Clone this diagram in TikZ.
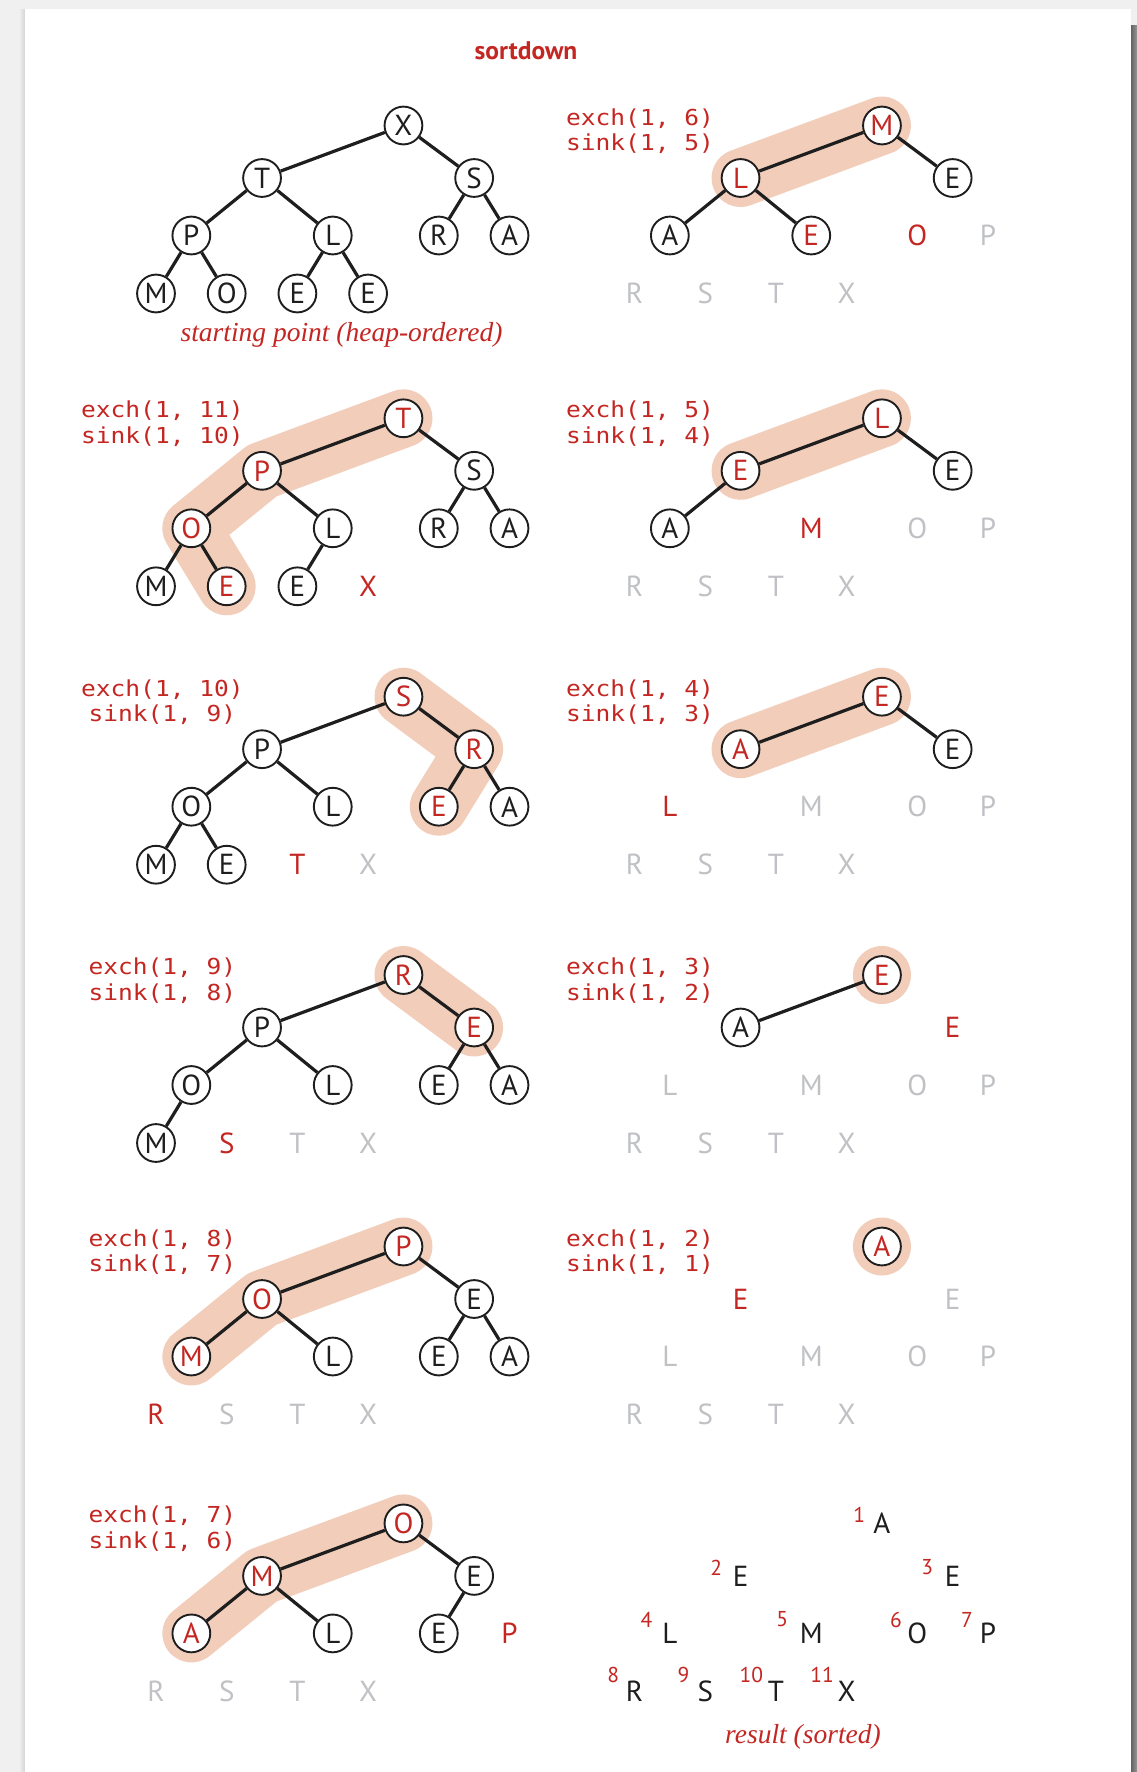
\documentclass[tikz,border=0pt]{standalone}
\usepackage{fontspec}
\newfontfamily\letterfont{PT Sans}
\newfontfamily\codefont[FakeStretch=1.115]{DejaVu Sans Mono}
\newfontfamily\capfont{Liberation Serif}
\definecolor{hred}{RGB}{196,38,34}
\definecolor{hgrey}{RGB}{192,193,197}
\definecolor{hink}{RGB}{30,30,30}
\definecolor{hpeach}{RGB}{242,205,186}
\definecolor{hbg}{RGB}{240,240,240}
\pgfdeclarelayer{back}\pgfdeclarelayer{hl}\pgfsetlayers{back,hl,main}
% in-order slot and level offset of heap position k
\expandafter\def\csname hslot1\endcsname{7}
\expandafter\def\csname hslot2\endcsname{3}
\expandafter\def\csname hslot3\endcsname{9}
\expandafter\def\csname hslot4\endcsname{1}
\expandafter\def\csname hslot5\endcsname{5}
\expandafter\def\csname hslot6\endcsname{8}
\expandafter\def\csname hslot7\endcsname{10}
\expandafter\def\csname hslot8\endcsname{0}
\expandafter\def\csname hslot9\endcsname{2}
\expandafter\def\csname hslot10\endcsname{4}
\expandafter\def\csname hslot11\endcsname{6}
\expandafter\def\csname hlev1\endcsname{0}
\expandafter\def\csname hlev2\endcsname{52.5}
\expandafter\def\csname hlev3\endcsname{52.5}
\expandafter\def\csname hlev4\endcsname{110}
\expandafter\def\csname hlev5\endcsname{110}
\expandafter\def\csname hlev6\endcsname{110}
\expandafter\def\csname hlev7\endcsname{110}
\expandafter\def\csname hlev8\endcsname{168}
\expandafter\def\csname hlev9\endcsname{168}
\expandafter\def\csname hlev10\endcsname{168}
\expandafter\def\csname hlev11\endcsname{168}
\newcommand\hpanel[3]{% #1 name, #2 x0, #3 root y, list in \hplist
  \foreach \st/\lt [count=\k] in \hplist {%
    \edef\hsl{\csname hslot\k\endcsname}%
    \edef\hlv{\csname hlev\k\endcsname}%
    \pgfmathsetmacro\hx{#2+35.35*\hsl}%
    \pgfmathsetmacro\hy{#3+\hlv}%
    \node[\st] (#1n\k) at (\hx,\hy) {\lt};
  }}
\newcommand\hedges[2]{%
  \foreach \k in {2,...,#2} {%
    \pgfmathtruncatemacro\pp{\k/2}%
    \draw[edge] (#1n\pp) -- (#1n\k);
  }}
\begin{document}
\begin{tikzpicture}[x=1pt,y=-1pt,
  hc/.style={circle,draw=hink,fill=white,line width=1.9pt,minimum size=37.8pt,inner sep=0pt,
    font=\letterfont\fontsize{29}{32}\selectfont,text=hink},
  hcr/.style={hc,text=hred},
  tlk/.style={inner sep=0pt,font=\letterfont\fontsize{29}{32}\selectfont,text=hink},
  tlr/.style={tlk,text=hred},
  tlg/.style={tlk,text=hgrey},
  edge/.style={draw=hink,line width=3.2pt},
  hlband/.style={draw=hpeach,line width=58pt,line cap=round,line join=round},
  code/.style={inner sep=0pt,font=\codefont\fontsize{22}{24}\selectfont,text=hred,anchor=base},
  num/.style={inner sep=0pt,font=\letterfont\fontsize{21.5}{24}\selectfont,text=hred},
  capt/.style={inner sep=0pt,font=\capfont\itshape\fontsize{27.5}{30}\selectfont,text=hred,anchor=base},
  ttl/.style={inner sep=0pt,font=\letterfont\bfseries\fontsize{25.5}{28}\selectfont,text=hred,anchor=base}]
\useasboundingbox (0,0) rectangle (1137,1772);
\begin{pgfonlayer}{back}
\fill[hbg] (0,0) rectangle (1137,1772);
\shade[left color=hbg,right color={rgb,255:red,212;green,212;blue,212}] (19,9) rectangle (25,1772);
\fill[white] (25,9) rectangle (1131,1772);
\shade[left color={rgb,255:red,100;green,100;blue,100},right color={rgb,255:red,150;green,150;blue,150}] (1131,25) rectangle (1137,1772);
\end{pgfonlayer}

\node[ttl] (title) at (526,59.5) {sortdown};

% ---------- left column ----------
\def\hplist{hc/X,hc/T,hc/S,hc/P,hc/L,hc/R,hc/A,hc/M,hc/O,hc/E,hc/E}
\hpanel{L1}{156}{125.5}
\hedges{L1}{11}
\node[capt] (cap1) at (341.5,341.7) {starting point (heap-ordered)};

\def\hplist{hcr/T,hcr/P,hc/S,hcr/O,hc/L,hc/R,hc/A,hc/M,hcr/E,hc/E,tlr/X}
\hpanel{L2}{156}{418.3}
\hedges{L2}{10}
\node[code] (L2la) at (162.4,417.8) {exch(1, 11)};
\node[code] (L2lb) at (162.4,443.3) {sink(1, 10)};

\def\hplist{hcr/S,hc/P,hcr/R,hc/O,hc/L,hcr/E,hc/A,hc/M,hc/E,tlr/T,tlg/X}
\hpanel{L3}{156}{696.7}
\hedges{L3}{9}
\node[code] (L3la) at (162.4,696.2) {exch(1, 10)};
\node[code] (L3lb) at (162.4,721.7) {sink(1, 9)};

\def\hplist{hcr/R,hc/P,hcr/E,hc/O,hc/L,hc/E,hc/A,hc/M,tlr/S,tlg/T,tlg/X}
\hpanel{L4}{156}{975}
\hedges{L4}{8}
\node[code] (L4la) at (162.4,974.5) {exch(1, 9)};
\node[code] (L4lb) at (162.4,1000) {sink(1, 8)};

\def\hplist{hcr/P,hcr/O,hc/E,hcr/M,hc/L,hc/E,hc/A,tlr/R,tlg/S,tlg/T,tlg/X}
\hpanel{L5}{156}{1246.5}
\hedges{L5}{7}
\node[code] (L5la) at (162.4,1246) {exch(1, 8)};
\node[code] (L5lb) at (162.4,1271.5) {sink(1, 7)};

\def\hplist{hcr/O,hcr/M,hc/E,hcr/A,hc/L,hc/E,tlr/P,tlg/R,tlg/S,tlg/T,tlg/X}
\hpanel{L6}{156}{1523.4}
\hedges{L6}{6}
\node[code] (L6la) at (162.4,1522.9) {exch(1, 7)};
\node[code] (L6lb) at (162.4,1548.4) {sink(1, 6)};

% ---------- right column ----------
\def\hplist{hcr/M,hcr/L,hc/E,hc/A,hcr/E,tlr/O,tlg/P,tlg/R,tlg/S,tlg/T,tlg/X}
\hpanel{R1}{634.5}{125.5}
\hedges{R1}{5}
\node[code] (R1la) at (640,125) {exch(1, 6)};
\node[code] (R1lb) at (640,150.5) {sink(1, 5)};

\def\hplist{hcr/L,hcr/E,hc/E,hc/A,tlr/M,tlg/O,tlg/P,tlg/R,tlg/S,tlg/T,tlg/X}
\hpanel{R2}{634.5}{418.3}
\hedges{R2}{4}
\node[code] (R2la) at (640,417.8) {exch(1, 5)};
\node[code] (R2lb) at (640,443.3) {sink(1, 4)};

\def\hplist{hcr/E,hcr/A,hc/E,tlr/L,tlg/M,tlg/O,tlg/P,tlg/R,tlg/S,tlg/T,tlg/X}
\hpanel{R3}{634.5}{696.7}
\hedges{R3}{3}
\node[code] (R3la) at (640,696.2) {exch(1, 4)};
\node[code] (R3lb) at (640,721.7) {sink(1, 3)};

\def\hplist{hcr/E,hc/A,tlr/E,tlg/L,tlg/M,tlg/O,tlg/P,tlg/R,tlg/S,tlg/T,tlg/X}
\hpanel{R4}{634.5}{975}
\hedges{R4}{2}
\node[code] (R4la) at (640,974.5) {exch(1, 3)};
\node[code] (R4lb) at (640,1000) {sink(1, 2)};

\def\hplist{hcr/A,tlr/E,tlg/E,tlg/L,tlg/M,tlg/O,tlg/P,tlg/R,tlg/S,tlg/T,tlg/X}
\hpanel{R5}{634.5}{1246.5}
\node[code] (R5la) at (640,1246) {exch(1, 2)};
\node[code] (R5lb) at (640,1271.5) {sink(1, 1)};

\def\hplist{tlk/A,tlk/E,tlk/E,tlk/L,tlk/M,tlk/O,tlk/P,tlk/R,tlk/S,tlk/T,tlk/X}
\hpanel{R6}{634.5}{1523.4}
\node[num] (R6k1) at (859.2,1514.5) {1};
\node[num] (R6k2) at (716.1,1567.5) {2};
\node[num] (R6k3) at (927.1,1567.5) {3};
\node[num] (R6k4) at (646.5,1619.5) {4};
\node[num] (R6k5) at (782.1,1619.5) {5};
\node[num] (R6k6) at (896,1619.5) {6};
\node[num] (R6k7) at (967,1619.5) {7};
\node[num] (R6k8) at (613.2,1674.5) {8};
\node[num] (R6k9) at (683.5,1674.5) {9};
\node[num] (R6k10) at (751.4,1674.5) {10};
\node[num] (R6k11) at (822,1674.5) {11};
\node[capt] (cap2) at (803,1743) {result (sorted)};

% ---------- highlighted sink paths ----------
\begin{pgfonlayer}{hl}
\draw[hlband] (L2n1.center) -- (L2n2.center) -- (L2n4.center) -- (L2n9.center);
\draw[hlband] (L3n1.center) -- (L3n3.center) -- (L3n6.center);
\draw[hlband] (L4n1.center) -- (L4n3.center);
\draw[hlband] (L5n1.center) -- (L5n2.center) -- (L5n4.center);
\draw[hlband] (L6n1.center) -- (L6n2.center) -- (L6n4.center);
\draw[hlband] (R1n1.center) -- (R1n2.center);
\draw[hlband] (R2n1.center) -- (R2n2.center);
\draw[hlband] (R3n1.center) -- (R3n2.center);
\fill[hpeach] (R4n1.center) circle[radius=29];
\fill[hpeach] (R5n1.center) circle[radius=29];
\end{pgfonlayer}
\end{tikzpicture}
\end{document}
